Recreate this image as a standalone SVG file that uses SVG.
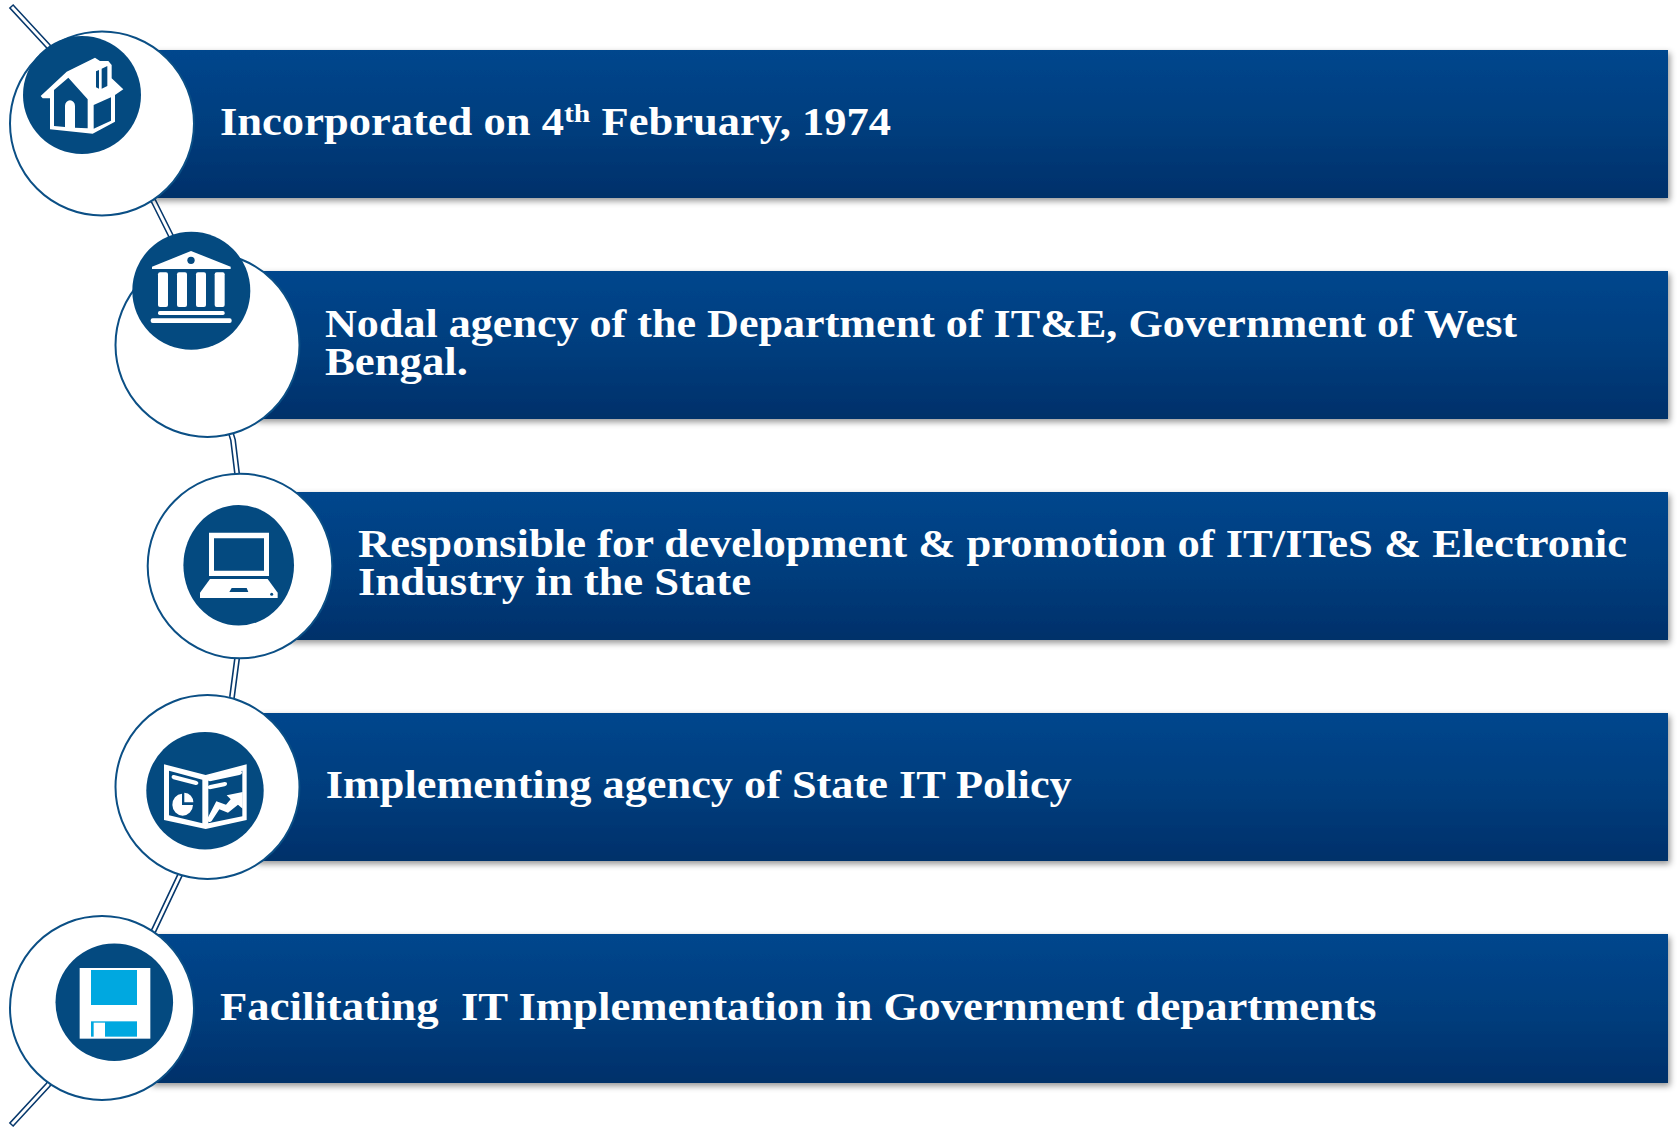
<svg xmlns="http://www.w3.org/2000/svg" width="1677" height="1127" viewBox="0 0 1677 1127">
<style>
.bar{fill:url(#barGrad);filter:url(#barShadow)}
.ring{fill:#fff;stroke:#0b4f85;stroke-width:2}
.disc{fill:#044a80}
.ink{fill:#fff}
.cut{fill:#044a80}
.label{font-family:"Liberation Serif","Times New Roman",serif;font-weight:700;font-size:39px;fill:#fff}
.sup{font-size:26px}
.wire{fill:none;stroke-linejoin:round}
</style>
<defs>
<linearGradient id="barGrad" x1="0" y1="0" x2="0" y2="1">
<stop offset="0" stop-color="#03468d"/>
<stop offset="0.5" stop-color="#023e7e"/>
<stop offset="1" stop-color="#01306a"/>
</linearGradient>
<filter id="barShadow" x="-2%" y="-10%" width="104%" height="125%">
<feDropShadow dx="2" dy="3" stdDeviation="3.2" flood-color="#000" flood-opacity="0.42"/>
</filter>
</defs>
<rect width="1677" height="1127" fill="#fff"/>
<g id="connectors">
<path class="wire" stroke="#07386c" stroke-width="6" d="M11 6L48 46L154 202L171 236L233 440L237 473L237 659L232 697L180 875L154 930L48 1085L11 1125"/>
<path class="wire" stroke="#fff" stroke-width="2.8" d="M12 7L48 46L154 202L171 236L233 440L237 473L237 659L232 697L180 875L154 930L48 1085L12 1124"/>
</g>
<g id="node-1">
<rect class="bar" x="150" y="50" width="1518" height="148"/>
<circle class="ring" cx="102" cy="123.5" r="92"/>
<circle class="disc" cx="82" cy="95" r="59"/>
<g transform="scale(0.33333)">
<path class="ink" d="M122 288L200 215L285 173L300 183L325 183L335 195L335 235L370 268L345 285L345 365L278 401L150 388L150 295L128 295Z"/>
<path class="cut" d="M162 270L205 233L263 298L263 385L225 383L225 318A15 17 0 0 0 195 318L195 381L162 378Z"/>
<path class="cut" d="M281 315L333 292L333 362L281 386Z"/>
<path class="cut" d="M288 214L297 210L297 266L288 262ZM305 206L322 198L322 258L305 266Z"/>
</g>
<text class="label" x="220" y="135" textLength="671" lengthAdjust="spacingAndGlyphs">Incorporated on 4<tspan class="sup" dy="-13">th</tspan><tspan dy="13"> February, 1974</tspan></text>
</g>
<g id="node-2">
<rect class="bar" x="255" y="271" width="1413" height="148"/>
<circle class="ring" cx="207.5" cy="345" r="92"/>
<circle class="disc" cx="191.3" cy="290.7" r="59"/>
<g transform="scale(0.33333)">
<path class="ink" d="M456 800L573 753L692 800L692 807L456 807Z"/>
<circle class="cut" cx="573" cy="781" r="11"/>
<rect class="ink" x="474" y="817" width="30" height="104" rx="6"/>
<rect class="ink" x="531" y="817" width="30" height="104" rx="6"/>
<rect class="ink" x="588" y="817" width="30" height="104" rx="6"/>
<rect class="ink" x="644" y="817" width="30" height="104" rx="6"/>
<rect class="ink" x="474" y="933" width="200" height="12" rx="5"/>
<rect class="ink" x="452" y="955" width="243" height="14" rx="6"/>
</g>
<text class="label" x="325" y="337" textLength="1192" lengthAdjust="spacingAndGlyphs">Nodal agency of the Department of IT&amp;E, Government of West</text>
<text class="label" x="325" y="375" textLength="143" lengthAdjust="spacingAndGlyphs">Bengal.</text>
</g>
<g id="node-3">
<rect class="bar" x="288" y="492" width="1380" height="148"/>
<circle class="ring" cx="240" cy="566" r="92.3"/>
<ellipse class="disc" cx="238.7" cy="565.3" rx="55.3" ry="60.3"/>
<g transform="translate(100 440) scale(0.33333)">
<path class="ink" fill-rule="evenodd" d="M327 278H507V408H327ZM342 295V392H492V295Z"/>
<path class="ink" d="M330 417H503L533 458V474H300V458Z"/>
<path class="cut" d="M395 444H440L445 456H388Z"/>
<circle class="cut" cx="515" cy="463" r="4.5"/>
</g>
<text class="label" x="358" y="557.3" textLength="1269" lengthAdjust="spacingAndGlyphs">Responsible for development &amp; promotion of IT/ITeS &amp; Electronic</text>
<text class="label" x="358" y="595.3" textLength="393" lengthAdjust="spacingAndGlyphs">Industry in the State</text>
</g>
<g id="node-4">
<rect class="bar" x="255" y="713" width="1413" height="148"/>
<circle class="ring" cx="207.5" cy="787" r="92"/>
<circle class="disc" cx="205" cy="790.7" r="58.7"/>
<g transform="translate(100 440) scale(0.33333)">
<path class="ink" fill-rule="evenodd" d="M192 973L317 1005L440 973V1140L317 1167L192 1140ZM207 992V1126L307 1150V1019ZM325 1019V1150L427 1129V992Z"/>
<path class="ink" d="M222 1005L288 1022Q298 1026 294 1032Q291 1036 284 1034L220 1018Q213 1015 215 1009Q217 1004 222 1005Z"/>
<path class="ink" d="M330 1011L418 992Q427 992 426 999Q425 1004 418 1005L330 1024Q323 1024 323 1018Q324 1012 330 1011ZM330 1035L374 1026Q382 1026 381 1033Q380 1038 374 1039L330 1048Q323 1048 323 1041Q324 1036 330 1035Z"/>
<path class="ink" d="M246 1061A31 33 0 1 0 279 1095L246 1095Z"/>
<path class="ink" d="M253 1058A28 28 0 0 1 280 1087L253 1087Z"/>
<path class="ink" d="M323 1134L349 1084L378 1094L392 1078L380 1066L428 1056L428 1106L414 1094L384 1118L358 1108L335 1143Q330 1148 325 1145Q321 1141 323 1134Z"/>
</g>
<text class="label" x="325.7" y="797.7" textLength="746" lengthAdjust="spacingAndGlyphs">Implementing agency of State IT Policy</text>
</g>
<g id="node-5">
<rect class="bar" x="150" y="934" width="1518" height="149"/>
<circle class="ring" cx="102" cy="1008" r="92"/>
<circle class="disc" cx="114.3" cy="1002.3" r="58.8"/>
<g transform="translate(0 860) scale(0.33333)">
<rect class="ink" x="239" y="324" width="212" height="212"/>
<rect fill="#00a8e0" x="273" y="330" width="138" height="105"/>
<rect fill="#00a8e0" x="273" y="484" width="138" height="46"/>
<rect class="ink" x="281" y="488" width="34" height="44"/>
</g>
<text class="label" x="220" y="1020" textLength="1156.5" lengthAdjust="spacingAndGlyphs" xml:space="preserve">Facilitating  IT Implementation in Government departments</text>
</g>
</svg>
